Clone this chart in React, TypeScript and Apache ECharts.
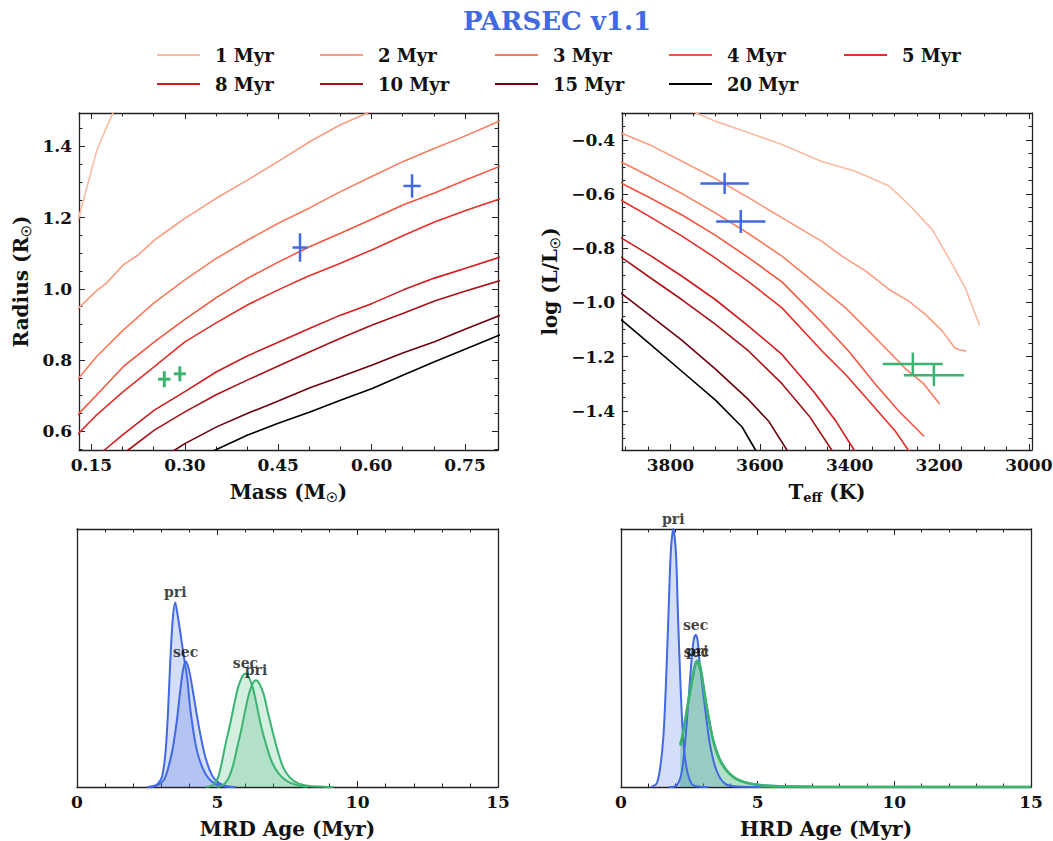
import React, { useEffect, useRef } from 'react';
import * as echarts from 'echarts';

const SERIF = "'DejaVu Serif', 'Liberation Serif', serif";
const INK = '#111111';
const FRAME = '#222222';
const BLUE = '#4169e1';
const GREEN = '#3cb371';

// Isochrone ages and their colours
const AGES = ['1 Myr', '2 Myr', '3 Myr', '4 Myr', '5 Myr', '8 Myr', '10 Myr', '15 Myr', '20 Myr'];
const AGE_COLORS = ['#fcbba1', '#fc9d7f', '#fb7c5c', '#f5553c', '#e43027', '#cd1b1e', '#a91016', '#6d010e', '#000000'];

// Mass–radius isochrones: [mass (Msun), radius (Rsun)]
const MR_1 = [[0.12, 1.13], [0.13, 1.203], [0.145, 1.3], [0.158, 1.386], [0.172, 1.445], [0.186, 1.5], [0.19, 1.52]];
const MR_2 = [[0.12, 0.93], [0.13, 0.947], [0.158, 0.994], [0.174, 1.016], [0.201, 1.067], [0.225, 1.095], [0.251, 1.137], [0.276, 1.168], [0.3, 1.198], [0.351, 1.255], [0.401, 1.306], [0.45, 1.358], [0.501, 1.414], [0.55, 1.461], [0.593, 1.494], [0.61, 1.51]];
const MR_3 = [[0.12, 0.72], [0.13, 0.75], [0.158, 0.809], [0.201, 0.884], [0.251, 0.961], [0.3, 1.025], [0.351, 1.086], [0.401, 1.137], [0.45, 1.184], [0.501, 1.228], [0.55, 1.273], [0.601, 1.316], [0.651, 1.358], [0.701, 1.395], [0.74, 1.422], [0.81, 1.475]];
const MR_4 = [[0.12, 0.63], [0.13, 0.65], [0.158, 0.701], [0.201, 0.781], [0.251, 0.851], [0.3, 0.914], [0.351, 0.976], [0.401, 1.03], [0.45, 1.075], [0.501, 1.119], [0.55, 1.156], [0.601, 1.196], [0.651, 1.236], [0.701, 1.269], [0.751, 1.306], [0.81, 1.347]];
const MR_5 = [[0.12, 0.575], [0.13, 0.595], [0.158, 0.645], [0.201, 0.711], [0.251, 0.781], [0.3, 0.851], [0.351, 0.905], [0.401, 0.955], [0.45, 0.997], [0.496, 1.034], [0.55, 1.072], [0.601, 1.11], [0.651, 1.15], [0.701, 1.188], [0.751, 1.22], [0.81, 1.255]];
const MR_8 = [[0.16, 0.535], [0.171, 0.547], [0.201, 0.591], [0.251, 0.659], [0.3, 0.711], [0.351, 0.767], [0.401, 0.812], [0.45, 0.85], [0.501, 0.889], [0.55, 0.926], [0.601, 0.959], [0.651, 0.997], [0.701, 1.03], [0.751, 1.058], [0.81, 1.091]];
const MR_10 = [[0.2, 0.535], [0.209, 0.547], [0.251, 0.603], [0.3, 0.654], [0.351, 0.703], [0.401, 0.744], [0.45, 0.783], [0.501, 0.823], [0.55, 0.861], [0.601, 0.898], [0.651, 0.931], [0.701, 0.966], [0.751, 0.994], [0.81, 1.025]];
const MR_15 = [[0.27, 0.535], [0.284, 0.547], [0.3, 0.565], [0.351, 0.612], [0.401, 0.65], [0.45, 0.685], [0.501, 0.722], [0.55, 0.753], [0.601, 0.786], [0.651, 0.82], [0.701, 0.851], [0.751, 0.887], [0.81, 0.928]];
const MR_20 = [[0.34, 0.54], [0.349, 0.547], [0.401, 0.589], [0.45, 0.622], [0.501, 0.654], [0.55, 0.687], [0.601, 0.72], [0.651, 0.758], [0.701, 0.795], [0.751, 0.831], [0.81, 0.873]];
const MR_ISOCHRONES = [MR_1, MR_2, MR_3, MR_4, MR_5, MR_8, MR_10, MR_15, MR_20];

// HR-diagram isochrones: [Teff (K), log L/Lsun]
const HR_1 = [[3780, -0.27], [3744, -0.299], [3700, -0.33], [3625, -0.373], [3551, -0.416], [3461, -0.48], [3387, -0.515], [3312, -0.57], [3268, -0.638], [3216, -0.73], [3179, -0.835], [3142, -0.946], [3110, -1.084]];
const HR_2 = [[3950, -0.35], [3906, -0.377], [3848, -0.416], [3774, -0.478], [3700, -0.542], [3625, -0.613], [3551, -0.687], [3461, -0.775], [3417, -0.829], [3364, -0.884], [3312, -0.952], [3268, -0.995], [3231, -1.044], [3194, -1.104], [3165, -1.168], [3156, -1.174], [3140, -1.18]];
const HR_3 = [[3950, -0.45], [3906, -0.484], [3848, -0.533], [3774, -0.598], [3700, -0.669], [3625, -0.746], [3551, -0.829], [3461, -0.95], [3409, -1.02], [3335, -1.143], [3275, -1.245], [3235, -1.3], [3199, -1.375]];
const HR_4 = [[3950, -0.51], [3906, -0.562], [3848, -0.611], [3774, -0.677], [3700, -0.751], [3625, -0.835], [3551, -0.924], [3461, -1.075], [3402, -1.18], [3342, -1.303], [3290, -1.402], [3234, -1.494]];
const HR_5 = [[3950, -0.58], [3906, -0.626], [3848, -0.681], [3774, -0.755], [3700, -0.835], [3625, -0.924], [3551, -1.02], [3461, -1.18], [3409, -1.266], [3350, -1.377], [3298, -1.476], [3270, -1.543], [3260, -1.57]];
const HR_8 = [[3950, -0.72], [3906, -0.765], [3848, -0.823], [3774, -0.903], [3700, -0.989], [3625, -1.088], [3551, -1.192], [3480, -1.33], [3430, -1.44], [3390, -1.545], [3380, -1.57]];
const HR_10 = [[3950, -0.79], [3906, -0.837], [3848, -0.905], [3774, -0.99], [3700, -1.08], [3625, -1.18], [3551, -1.3], [3490, -1.42], [3440, -1.545], [3430, -1.57]];
const HR_15 = [[3950, -0.92], [3906, -0.971], [3848, -1.045], [3774, -1.14], [3700, -1.245], [3625, -1.36], [3580, -1.44], [3540, -1.545], [3530, -1.57]];
const HR_20 = [[3950, -1.01], [3906, -1.069], [3848, -1.15], [3774, -1.255], [3700, -1.36], [3640, -1.46], [3610, -1.545], [3600, -1.57]];
const HR_ISOCHRONES = [HR_1, HR_2, HR_3, HR_4, HR_5, HR_8, HR_10, HR_15, HR_20];

// Measured stars: [x, y, xerr, yerr]
const SYS_A_MR = [[0.485, 1.116, 0.012, 0.04], [0.665, 1.289, 0.014, 0.033]];
const SYS_B_MR = [[0.267, 0.746, 0.01, 0.0225], [0.292, 0.761, 0.0097, 0.021]];
const SYS_A_HR = [[3679, -0.56, 54, 0.039], [3643, -0.701, 55, 0.0425]];
const SYS_B_HR = [[3259, -1.227, 67, 0.042], [3212, -1.269, 67, 0.04]];

// Age posteriors (normalised density): [age (Myr), density]
const MRD_A_PRI = [[2.5, 0], [2.75, 0.004], [2.9, 0.015], [3.03, 0.04], [3.15, 0.13], [3.24, 0.285], [3.32, 0.48], [3.41, 0.648], [3.5, 0.715], [3.58, 0.67], [3.68, 0.6], [3.8, 0.51], [3.93, 0.42], [4.04, 0.3], [4.27, 0.142], [4.57, 0.052], [4.93, 0.011], [5.3, 0.002], [5.64, 0]];
const MRD_A_SEC = [[2.6, 0], [2.85, 0.006], [3.09, 0.026], [3.26, 0.078], [3.42, 0.155], [3.56, 0.259], [3.68, 0.375], [3.78, 0.455], [3.87, 0.486], [3.95, 0.47], [4.04, 0.428], [4.22, 0.311], [4.39, 0.207], [4.57, 0.117], [4.81, 0.045], [5.05, 0.016], [5.34, 0.003], [5.6, 0]];
const MRD_B_PRI = [[5.0, 0], [5.2, 0.008], [5.38, 0.03], [5.55, 0.08], [5.7, 0.15], [5.85, 0.22], [6.0, 0.3], [6.15, 0.37], [6.28, 0.405], [6.38, 0.414], [6.5, 0.4], [6.65, 0.36], [6.8, 0.29], [6.98, 0.21], [7.15, 0.14], [7.35, 0.075], [7.6, 0.035], [7.9, 0.013], [8.3, 0.004], [8.8, 0.001], [9.14, 0]];
const MRD_B_SEC = [[4.6, 0], [4.85, 0.008], [5.02, 0.035], [5.15, 0.09], [5.3, 0.17], [5.45, 0.24], [5.6, 0.32], [5.75, 0.39], [5.9, 0.43], [6.0, 0.44], [6.1, 0.43], [6.25, 0.39], [6.4, 0.32], [6.55, 0.24], [6.75, 0.16], [6.95, 0.095], [7.2, 0.05], [7.5, 0.022], [7.85, 0.007], [8.2, 0]];
const HRD_A_PRI = [[1.1, 0], [1.3, 0.013], [1.42, 0.065], [1.55, 0.194], [1.64, 0.389], [1.73, 0.647], [1.82, 0.906], [1.91, 1.0], [2.01, 0.906], [2.09, 0.647], [2.18, 0.389], [2.27, 0.194], [2.39, 0.078], [2.58, 0.013], [2.82, 0.002], [3.2, 0]];
const HRD_A_SEC = [[1.75, 0], [2.03, 0.006], [2.21, 0.052], [2.33, 0.156], [2.46, 0.324], [2.58, 0.492], [2.66, 0.57], [2.73, 0.589], [2.8, 0.57], [2.88, 0.479], [3.07, 0.311], [3.25, 0.168], [3.49, 0.065], [3.8, 0.013], [4.22, 0.002], [5.9, 0]];
const HRD_B_PRI = [[2.17, 0.166], [2.27, 0.21], [2.4, 0.29], [2.52, 0.36], [2.64, 0.43], [2.72, 0.475], [2.79, 0.49], [2.87, 0.48], [2.95, 0.44], [3.05, 0.37], [3.14, 0.31], [3.38, 0.18], [3.68, 0.095], [4.11, 0.04], [4.71, 0.014], [5.56, 0.004], [7.0, 0.0012], [10, 0.0004], [15, 0.0001]];
const HRD_B_SEC = [[2.17, 0.16], [2.27, 0.21], [2.4, 0.295], [2.52, 0.37], [2.62, 0.43], [2.7, 0.47], [2.76, 0.485], [2.84, 0.475], [2.93, 0.44], [3.05, 0.365], [3.14, 0.305], [3.38, 0.175], [3.68, 0.09], [4.11, 0.038], [4.71, 0.013], [5.56, 0.004], [7.0, 0.0012], [10, 0.0004], [15, 0.0001]];

// Tick positions
const MASS_TICKS = [0.15, 0.3, 0.45, 0.6, 0.75];
const MASS_MINOR = [0.2, 0.25, 0.35, 0.4, 0.5, 0.55, 0.65, 0.7];
const RADIUS_TICKS = [0.6, 0.8, 1.0, 1.2, 1.4];
const RADIUS_MINOR = [0.55, 0.65, 0.7, 0.75, 0.85, 0.9, 0.95, 1.05, 1.1, 1.15, 1.25, 1.3, 1.35, 1.45];
const TEFF_TICKS = [3000, 3200, 3400, 3600, 3800];
const TEFF_MINOR = [3050, 3100, 3150, 3250, 3300, 3350, 3450, 3500, 3550, 3650, 3700, 3750, 3850, 3900];
const LOGL_TICKS = [-1.4, -1.2, -1.0, -0.8, -0.6, -0.4];
const LOGL_MINOR = [-1.5, -1.45, -1.35, -1.3, -1.25, -1.15, -1.1, -1.05, -0.95, -0.9, -0.85, -0.75, -0.7, -0.65, -0.55, -0.5, -0.45, -0.35];
const AGE_TICKS = [0, 5, 10, 15];
const AGE_MINOR = [1, 2, 3, 4, 6, 7, 8, 9, 11, 12, 13, 14];

const NAME_RICH = {
  t: { fontFamily: SERIF, fontSize: 20, fontWeight: 'bold', color: INK, lineHeight: 24 },
  s: { fontFamily: SERIF, fontSize: 13, fontWeight: 'bold', color: INK, lineHeight: 12, verticalAlign: 'bottom' },
};

type AxisCfg = {
  min: number;
  max: number;
  inverse?: boolean;
  majors: number[];
  minors?: number[];
  fmt?: (v: number) => string;
  ticks: boolean;
  labels: boolean;
  name?: string;
  nameGap?: number;
  margin?: number;
};

function addAxes(list: any[], dim: 'x' | 'y', grid: number, c: AxisCfg): number {
  const start = list.length;
  const pos = dim === 'x' ? ['bottom', 'top'] : ['left', 'right'];
  const base = {
    type: 'value',
    gridIndex: grid,
    min: c.min,
    max: c.max,
    inverse: !!c.inverse,
    splitLine: { show: false },
    axisPointer: { show: false },
  };
  const line = { show: true, onZero: false, lineStyle: { color: FRAME, width: 1.3 } };
  const major = c.ticks
    ? { show: true, inside: true, length: 6, lineStyle: { color: FRAME, width: 1 }, customValues: c.majors }
    : { show: false };
  list.push({
    ...base,
    position: pos[0],
    axisLine: line,
    axisTick: major,
    axisLabel: c.labels
      ? {
          show: true,
          customValues: c.majors,
          formatter: c.fmt,
          margin: c.margin ?? 6,
          fontFamily: SERIF,
          fontSize: 17,
          fontWeight: 'bold',
          color: INK,
        }
      : { show: false },
    name: c.name,
    nameLocation: 'middle',
    nameGap: c.nameGap,
    nameTextStyle: { rich: NAME_RICH },
  });
  list.push({ ...base, position: pos[1], axisLine: line, axisTick: major, axisLabel: { show: false } });
  if (c.minors) {
    for (const p of pos) {
      list.push({
        ...base,
        position: p,
        axisLine: { show: false, onZero: false },
        axisTick: { show: true, inside: true, length: 3.5, lineStyle: { color: FRAME, width: 1 }, customValues: c.minors },
        axisLabel: { show: false },
      });
    }
  }
  return start;
}

function crossSeries(data: number[][], color: string, width: number, xi: number, yi: number) {
  return {
    type: 'custom',
    xAxisIndex: xi,
    yAxisIndex: yi,
    data,
    encode: { x: 0, y: 1 },
    silent: true,
    z: 5,
    renderItem: (_params: any, api: any) => {
      const x = api.value(0);
      const y = api.value(1);
      const ex = api.value(2);
      const ey = api.value(3);
      const a = api.coord([x - ex, y]);
      const b = api.coord([x + ex, y]);
      const c = api.coord([x, y - ey]);
      const d = api.coord([x, y + ey]);
      const style = { stroke: color, lineWidth: width };
      return {
        type: 'group',
        children: [
          { type: 'line', shape: { x1: a[0], y1: a[1], x2: b[0], y2: b[1] }, style },
          { type: 'line', shape: { x1: c[0], y1: c[1], x2: d[0], y2: d[1] }, style },
        ],
      };
    },
  };
}

function densitySeries(data: number[][], color: string, xi: number, yi: number, width = 2) {
  return {
    type: 'line',
    data,
    xAxisIndex: xi,
    yAxisIndex: yi,
    symbol: 'none',
    smooth: 0.3,
    silent: true,
    lineStyle: { color, width },
    itemStyle: { color },
    areaStyle: { color, opacity: 0.22 },
    z: 3,
  };
}

function peakOf(d: number[][]) {
  return d.reduce((best, p) => (p[1] > best[1] ? p : best), d[0]);
}

function peakLabels(items: [number[][], string][], xi: number, yi: number) {
  return {
    type: 'scatter',
    xAxisIndex: xi,
    yAxisIndex: yi,
    symbolSize: 0.1,
    silent: true,
    clip: false,
    z: 6,
    itemStyle: { color: 'rgba(0,0,0,0)' },
    data: items.map(([d, t]) => ({ name: t, value: peakOf(d) })),
    label: {
      show: true,
      position: 'top',
      distance: 3,
      formatter: '{b}',
      fontFamily: SERIF,
      fontSize: 14,
      fontWeight: 'bold',
      color: INK,
    },
  };
}

function buildOption() {
  const xAxis: any[] = [];
  const yAxis: any[] = [];

  const grid = [
    { left: 79, top: 113, width: 419, height: 337, outerBoundsMode: 'none', containLabel: false },
    { left: 622, top: 113, width: 410, height: 337, outerBoundsMode: 'none', containLabel: false },
    { left: 77, top: 529, width: 421, height: 258, outerBoundsMode: 'none', containLabel: false },
    { left: 621, top: 529, width: 410, height: 258, outerBoundsMode: 'none', containLabel: false },
  ];

  const mrX = addAxes(xAxis, 'x', 0, {
    min: 0.13, max: 0.803, majors: MASS_TICKS, minors: MASS_MINOR, ticks: true, labels: true,
    fmt: (v) => v.toFixed(2), name: '{t|Mass (M}{s|☉}{t|)}', nameGap: 30,
  });
  const mrY = addAxes(yAxis, 'y', 0, {
    min: 0.547, max: 1.494, majors: RADIUS_TICKS, minors: RADIUS_MINOR, ticks: true, labels: true,
    fmt: (v) => v.toFixed(1), name: '{t|Radius (R}{s|☉}{t|)}', nameGap: 46, margin: 7,
  });
  const hrX = addAxes(xAxis, 'x', 1, {
    min: 2993, max: 3908, inverse: true, majors: TEFF_TICKS, minors: TEFF_MINOR, ticks: true, labels: true,
    fmt: (v) => String(Math.round(v)), name: '{t|T}{s|eff}{t| (K)}', nameGap: 30,
  });
  const hrY = addAxes(yAxis, 'y', 1, {
    min: -1.545, max: -0.3, majors: LOGL_TICKS, minors: LOGL_MINOR, ticks: true, labels: true,
    fmt: (v) => v.toFixed(1).replace('-', '\u2212'), name: '{t|log (L/L}{s|☉}{t|)}', nameGap: 60, margin: 7,
  });
  const mrdX = addAxes(xAxis, 'x', 2, {
    min: 0, max: 15, majors: AGE_TICKS, minors: AGE_MINOR, ticks: true, labels: true,
    fmt: (v) => String(Math.round(v)), name: '{t|MRD Age (Myr)}', nameGap: 30,
  });
  const mrdY = addAxes(yAxis, 'y', 2, { min: 0, max: 1, majors: [], ticks: false, labels: false });
  const hrdX = addAxes(xAxis, 'x', 3, {
    min: 0, max: 15, majors: AGE_TICKS, minors: AGE_MINOR, ticks: true, labels: true,
    fmt: (v) => String(Math.round(v)), name: '{t|HRD Age (Myr)}', nameGap: 30,
  });
  const hrdY = addAxes(yAxis, 'y', 3, { min: 0, max: 1, majors: [], ticks: false, labels: false });

  const series: any[] = [];
  AGES.forEach((age, i) => {
    series.push({
      type: 'line', name: age, data: MR_ISOCHRONES[i], xAxisIndex: mrX, yAxisIndex: mrY,
      symbol: 'none', silent: true, clip: true, z: 2,
      lineStyle: { color: AGE_COLORS[i], width: 1.6 }, itemStyle: { color: AGE_COLORS[i] },
    });
    series.push({
      type: 'line', name: age, data: HR_ISOCHRONES[i], xAxisIndex: hrX, yAxisIndex: hrY,
      symbol: 'none', silent: true, clip: true, z: 2,
      lineStyle: { color: AGE_COLORS[i], width: 1.6 }, itemStyle: { color: AGE_COLORS[i] },
    });
  });

  series.push(crossSeries(SYS_A_MR, BLUE, 2.5, mrX, mrY));
  series.push(crossSeries(SYS_B_MR, GREEN, 3, mrX, mrY));
  series.push(crossSeries(SYS_A_HR, BLUE, 2.5, hrX, hrY));
  series.push(crossSeries(SYS_B_HR, GREEN, 2.5, hrX, hrY));

  series.push(densitySeries(MRD_A_PRI, BLUE, mrdX, mrdY));
  series.push(densitySeries(MRD_A_SEC, BLUE, mrdX, mrdY));
  series.push(densitySeries(MRD_B_PRI, GREEN, mrdX, mrdY));
  series.push(densitySeries(MRD_B_SEC, GREEN, mrdX, mrdY));
  series.push(densitySeries(HRD_A_PRI, BLUE, hrdX, hrdY));
  series.push(densitySeries(HRD_A_SEC, BLUE, hrdX, hrdY));
  series.push(densitySeries(HRD_B_PRI, GREEN, hrdX, hrdY, 2.4));
  series.push(densitySeries(HRD_B_SEC, GREEN, hrdX, hrdY, 2.4));

  series.push(peakLabels([[MRD_A_PRI, 'pri'], [MRD_A_SEC, 'sec'], [MRD_B_PRI, 'pri'], [MRD_B_SEC, 'sec']], mrdX, mrdY));
  series.push(peakLabels([[HRD_A_PRI, 'pri'], [HRD_A_SEC, 'sec'], [HRD_B_PRI, 'pri'], [HRD_B_SEC, 'sec']], hrdX, hrdY));

  const legendLeft = [157, 320, 495, 669, 844];
  const legendTop = [46, 75];
  const legend = AGES.map((age, i) => ({
    data: [age],
    left: legendLeft[i % 5],
    top: legendTop[Math.floor(i / 5)],
    padding: 0,
    icon: 'rect',
    itemWidth: 43,
    itemHeight: 2.2,
    selectedMode: false,
    textStyle: { fontFamily: SERIF, fontSize: 18, fontWeight: 'bold', color: INK, padding: [0, 0, 0, 10] },
  }));

  return {
    animation: false,
    backgroundColor: '#ffffff',
    grid,
    xAxis,
    yAxis,
    legend,
    series,
    graphic: [
      {
        type: 'text',
        x: 557,
        y: 21,
        style: {
          text: 'PARSEC v1.1',
          fill: BLUE,
          font: `bold 26px ${SERIF}`,
          textAlign: 'center',
          textVerticalAlign: 'middle',
        },
      },
    ],
  };
}

export default function App() {
  const ref = useRef<HTMLDivElement>(null);
  useEffect(() => {
    const chart = echarts.init(ref.current!, null, { renderer: 'svg' });
    chart.setOption(buildOption() as any);
    return () => chart.dispose();
  }, []);
  return (
    <div
      ref={ref}
      style={{ position: 'fixed', left: 0, top: 0, width: 1053, height: 841, background: '#ffffff' }}
    />
  );
}
